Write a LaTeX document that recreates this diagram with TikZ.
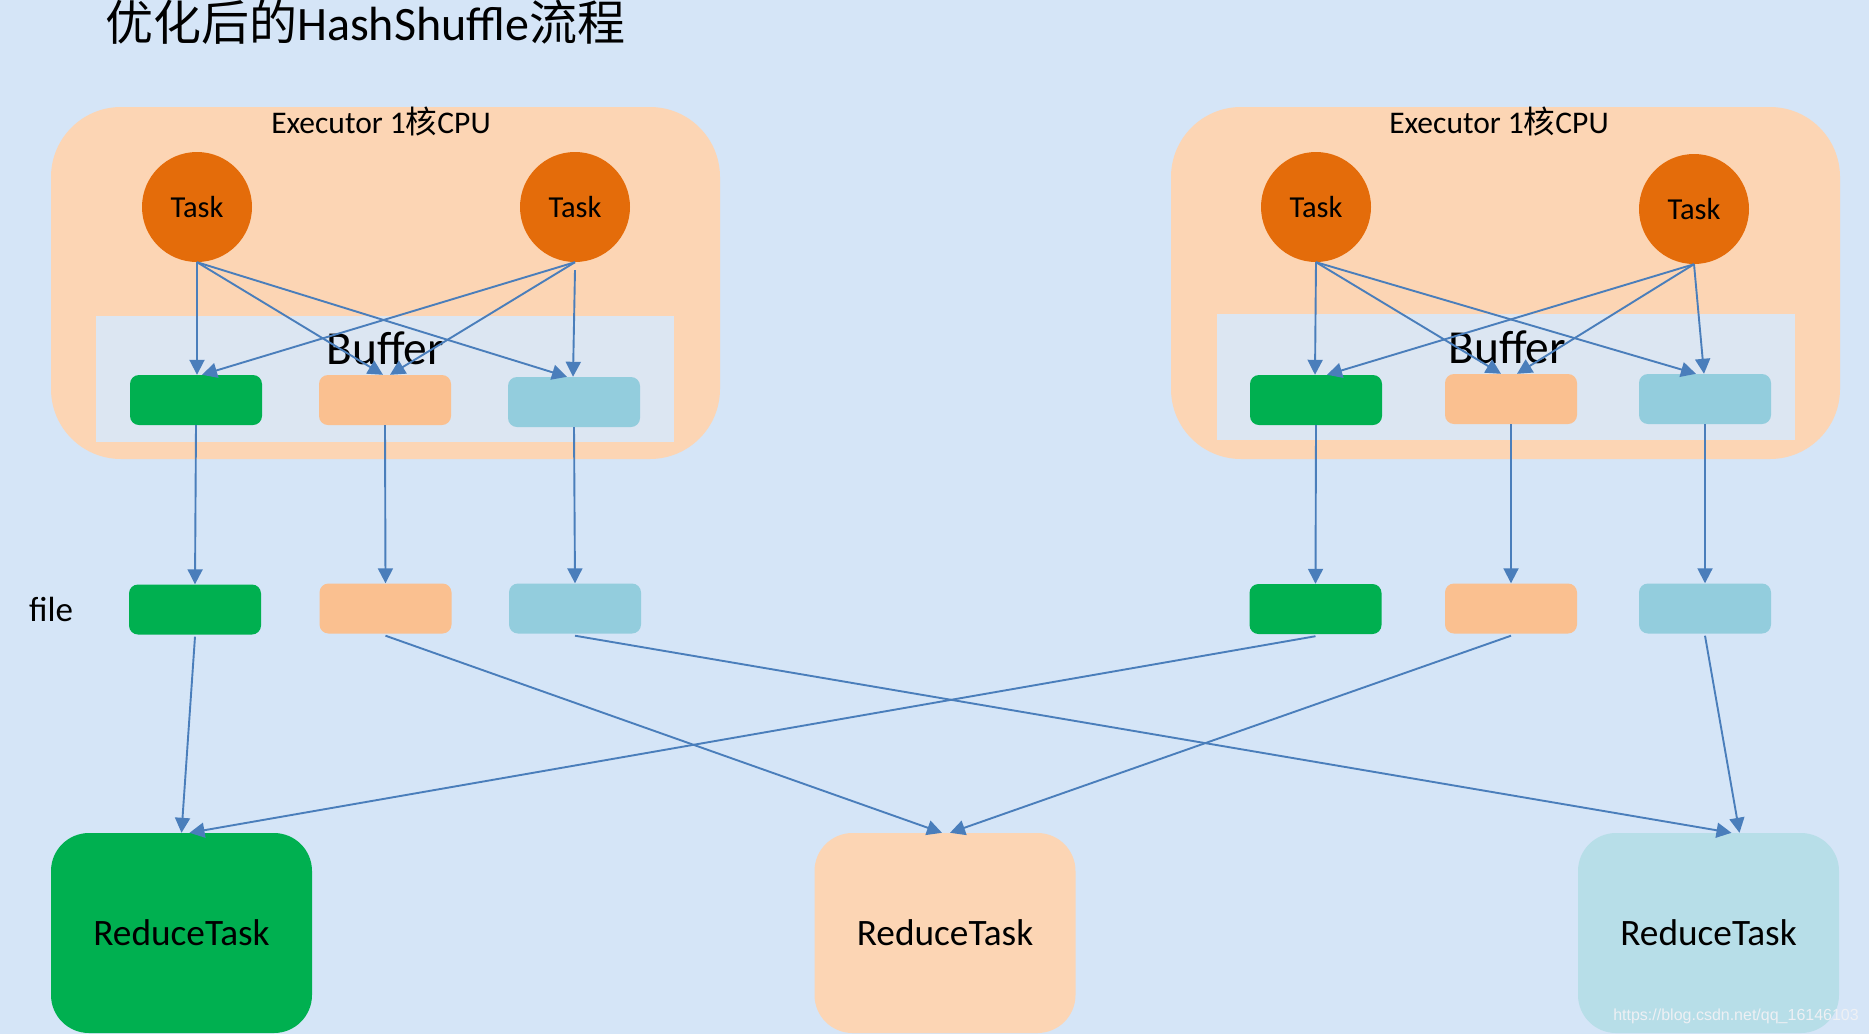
\documentclass[tikz,border=0pt]{standalone}
\usepackage{fontspec}
\setmainfont{Carlito}
\newfontfamily\cjk{Noto Sans CJK SC}
\newfontfamily\wmfont{Liberation Sans}
\usetikzlibrary{arrows.meta}
\definecolor{bgblue}{RGB}{213,229,247}
\definecolor{peach}{RGB}{252,213,180}
\definecolor{bufbg}{RGB}{220,230,242}
\definecolor{taskor}{RGB}{228,108,10}
\definecolor{grn}{RGB}{0,176,80}
\definecolor{org}{RGB}{250,192,144}
\definecolor{blu}{RGB}{147,205,221}
\definecolor{rblu}{RGB}{183,222,232}
\definecolor{arrc}{RGB}{74,126,187}
\tikzset{
  execbox/.style={fill=peach, rounded corners=70pt, minimum width=669pt, minimum height=352pt, inner sep=0pt},
  bufbox/.style={fill=bufbg, minimum width=578pt, minimum height=126pt, inner sep=0pt},
  taskc/.style={circle, fill=taskor, minimum size=110pt, inner sep=0pt, font=\fontsize{30.5}{36}\selectfont},
  small/.style={rounded corners=9pt, minimum width=132pt, minimum height=50pt, inner sep=0pt},
  rtask/.style={rounded corners=38pt, minimum width=261pt, minimum height=200pt, inner sep=0pt, font=\fontsize{37.3}{44}\selectfont},
  arr/.style={draw=arrc, line width=1.9pt, -{Triangle[length=15pt,width=15pt]}},
  lbl/.style={inner sep=0pt}
}
\begin{document}
\begin{tikzpicture}[x=1pt,y=-1pt]
\fill[bgblue] (0,0) rectangle (1869,1034);
\useasboundingbox (0,0) rectangle (1869,1034);
% title
\node[lbl, anchor=base west, font=\fontsize{48}{57}\selectfont] (title) at (105,40) {{\cjk 优化后的}HashShuffle{\cjk 流程}};
% executors
\node[execbox] (exL) at (385.5,283) {};
\node[execbox] (exR) at (1505.5,283) {};
\node[lbl, anchor=base, font=\fontsize{31.5}{38}\selectfont] (exLt) at (381,133) {Executor 1{\cjk 核}CPU};
\node[lbl, anchor=base, font=\fontsize{31.5}{38}\selectfont] (exRt) at (1499,133) {Executor 1{\cjk 核}CPU};
\node[bufbox] (bufL) at (385,379) {};
\node[bufbox] (bufR) at (1506,377) {};
\node[lbl, anchor=base, font=\fontsize{47.4}{57}\selectfont] (bufLt) at (385,364) {Buffer};
\node[lbl, anchor=base, font=\fontsize{47.4}{57}\selectfont] (bufRt) at (1507,363) {Buffer};
% tasks
\node[taskc] (tL1) at (197,207) {Task};
\node[taskc] (tL2) at (575,207) {Task};
\node[taskc] (tR1) at (1316,207) {Task};
\node[taskc] (tR2) at (1694,209) {Task};
% buffer boxes
\node[small, fill=grn] (bLg) at (196,400) {};
\node[small, fill=org] (bLo) at (385,400) {};
\node[small, fill=blu] (bLb) at (574,402) {};
\node[small, fill=grn] (bRg) at (1316,400) {};
\node[small, fill=org] (bRo) at (1511,399) {};
\node[small, fill=blu] (bRb) at (1705,399) {};
% file boxes
\node[lbl, anchor=base west, font=\fontsize{35}{42}\selectfont] (filet) at (29,621) {file};
\node[small, fill=grn] (fLg) at (195,609.5) {};
\node[small, fill=org] (fLo) at (385.5,608.5) {};
\node[small, fill=blu] (fLb) at (575,608.5) {};
\node[small, fill=grn] (fRg) at (1315.5,609) {};
\node[small, fill=org] (fRo) at (1511,608.5) {};
\node[small, fill=blu] (fRb) at (1705,608.5) {};
% reduce tasks
\node[rtask, fill=grn] (rG) at (181.5,933) {ReduceTask};
\node[rtask, fill=peach] (rO) at (945,933) {ReduceTask};
\node[rtask, fill=rblu] (rB) at (1708.5,933) {ReduceTask};
% watermark
\node[lbl, anchor=base east, font=\wmfont\fontsize{16}{20}\selectfont, text={rgb,255:red,238;green,240;blue,244}] (wm) at (1859,1020) {https://blog.csdn.net/qq\_16146103};
% arrows left executor
\draw[arr] (tL1.south) -- ([xshift=1pt]bLg.north);
\draw[arr] (tL1.south) -- ([xshift=-2pt]bLo.north);
\draw[arr] (tL1.south) -- ([xshift=-7pt]bLb.north);
\draw[arr] (tL2.south) -- ([xshift=6pt]bLg.north);
\draw[arr] (tL2.south) -- ([xshift=5pt]bLo.north);
\draw[arr] ([yshift=-8pt]tL2.south) -- ([xshift=-1pt]bLb.north);
% arrows right executor
\draw[arr] (tR1.south) -- ([xshift=-1pt]bRg.north);
\draw[arr] (tR1.south) -- ([xshift=-10pt]bRo.north);
\draw[arr] (tR1.south) -- ([xshift=-9pt]bRb.north);
\draw[arr] (tR2.south) -- ([xshift=11pt]bRg.north);
\draw[arr] (tR2.south) -- ([xshift=6pt]bRo.north);
\draw[arr] (tR2.south) -- ([xshift=-1pt]bRb.north);
% buffer to file
\draw[arr] (bLg.south) -- (fLg.north);
\draw[arr] (bLo.south) -- (fLo.north);
\draw[arr] (bLb.south) -- (fLb.north);
\draw[arr] (bRg.south) -- (fRg.north);
\draw[arr] (bRo.south) -- (fRo.north);
\draw[arr] (bRb.south) -- (fRb.north);
% file to reduce
\draw[arr] ([yshift=-2pt]fLg.south) -- (rG.north);
\draw[arr] ([yshift=-2pt]fRg.south) -- ([xshift=8pt]rG.north);
\draw[arr] ([yshift=-2pt]fLo.south) -- ([xshift=-3pt]rO.north);
\draw[arr] ([yshift=-2pt]fRo.south) -- ([xshift=5pt]rO.north);
\draw[arr] ([yshift=-2pt]fLb.south) -- ([xshift=23pt]rB.north);
\draw[arr] ([yshift=-2pt]fRb.south) -- ([xshift=31pt]rB.north);
\end{tikzpicture}
\end{document}
